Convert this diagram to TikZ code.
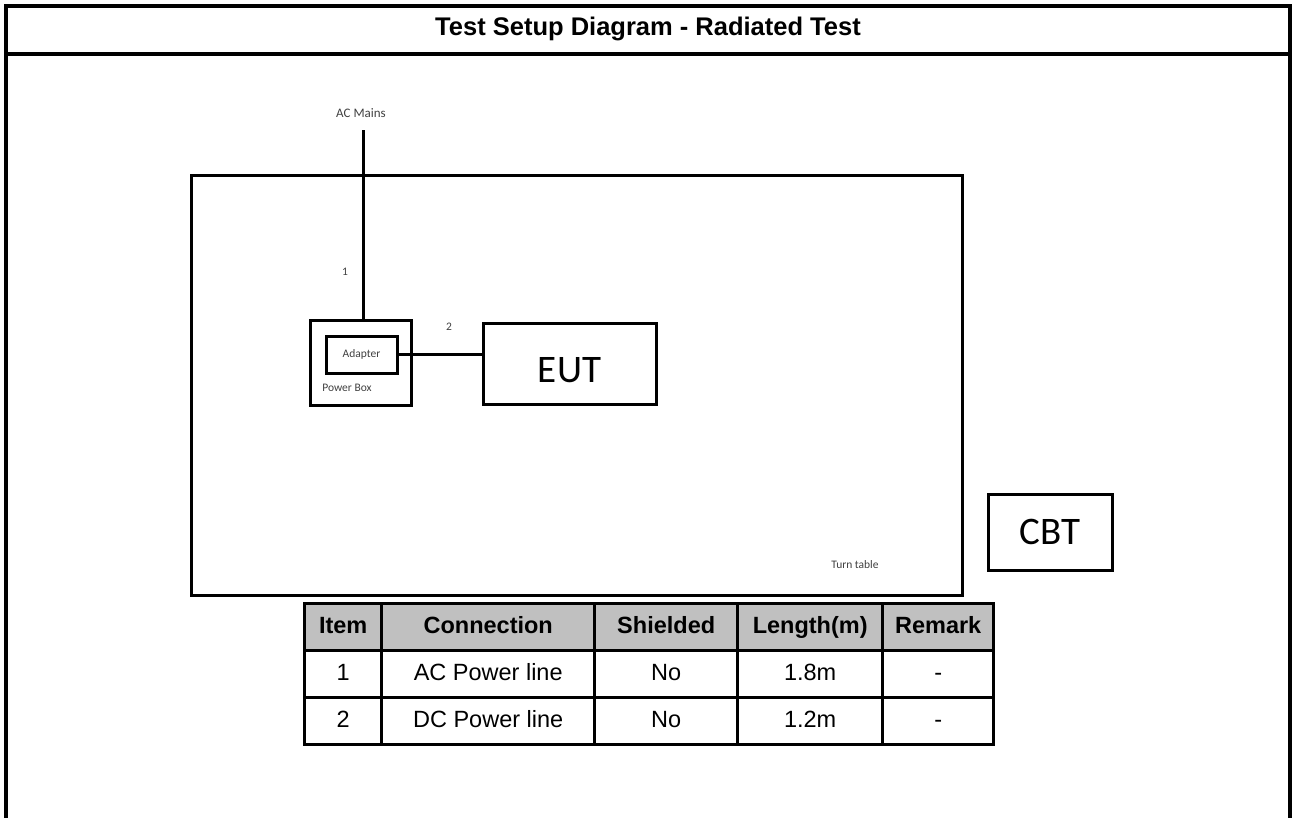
\documentclass[tikz,border=0pt]{standalone}
\usepackage{fontspec}
\setmainfont{Liberation Sans}
\newfontfamily\sketchfont{Carlito}
\usetikzlibrary{matrix}
\definecolor{hdrgray}{HTML}{C0C0C0}

\begin{document}
\begin{tikzpicture}[x=1pt, y=-1pt,
   frame/.style={line width=4pt},
   box/.style={draw, line width=3pt, inner sep=0pt, outer sep=0pt, anchor=north west},
   tag/.style={font=\sketchfont\fontsize{11.5}{13}\selectfont, text=black!75, inner sep=0pt},
   big/.style={font=\sketchfont\fontsize{39}{44}\selectfont},
   cable/.style={line width=3pt}]
\useasboundingbox (0,0) rectangle (1296,817);
% frame and title
\draw[frame] (6,822) -- (6,6) -- (1290,6) -- (1290,822);
\draw[frame] (6,54) -- (1290,54);
\node[font=\bfseries\fontsize{25.5}{30}\selectfont] (title) at (648,29) {Test Setup Diagram - Radiated Test};

% turn table with the units on it
\node[box, minimum width=771pt, minimum height=420pt] (turn) at (191,175) {};
\node[tag] (turnlbl) at (855,565) {Turn table};
\node[box, minimum width=101pt, minimum height=85pt] (pbox) at (310,320) {};
\node[tag] (pboxlbl) at (347,388) {Power Box};
\node[box, minimum width=71pt, minimum height=37pt, tag] (adapter) at (326,336) {Adapter};
\node[box, big, minimum width=173pt, minimum height=81pt, text height=37pt, text depth=0pt] (eut) at (483,323) {EUT};
\node[box, big, minimum width=124pt, minimum height=76pt, text height=25pt, text depth=0pt] (cbt) at (988,494) {CBT\hspace{26pt}};

% cables
\node[tag, font=\sketchfont\fontsize{13}{15}\selectfont] (mains) at (361,113) {AC Mains};
\coordinate (mainsend) at (363,130);
\draw[cable] (mainsend) -- (mainsend |- pbox.north);
\node[tag] (one) at (345,272) {1};
\draw[cable] (adapter.east) -- (adapter.east -| eut.west);
\node[tag] (two) at (449,327) {2};

% cable list
\matrix (cables) [matrix of nodes, anchor=north west, inner sep=0pt, column sep=-3pt, row sep=-3pt,
   nodes={draw, line width=3pt, anchor=center, minimum height=47pt, outer sep=0pt, inner sep=0pt,
      text height=17pt, text depth=5pt, font=\fontsize{23.5}{28}\selectfont},
   row 1/.style={nodes={fill=hdrgray, font=\bfseries\fontsize{23.5}{28}\selectfont}},
   column 1/.style={nodes={minimum width=77pt}},
   column 2/.style={nodes={minimum width=213pt}},
   column 3/.style={nodes={minimum width=143pt}},
   column 4/.style={nodes={minimum width=145pt}},
   column 5/.style={nodes={minimum width=111pt}}] at (303,602) {
Item & Connection & Shielded & Length(m) & Remark \\
1 & AC Power line & No & 1.8m & - \\
2 & DC Power line & No & 1.2m & - \\
};
\end{tikzpicture}
\end{document}
